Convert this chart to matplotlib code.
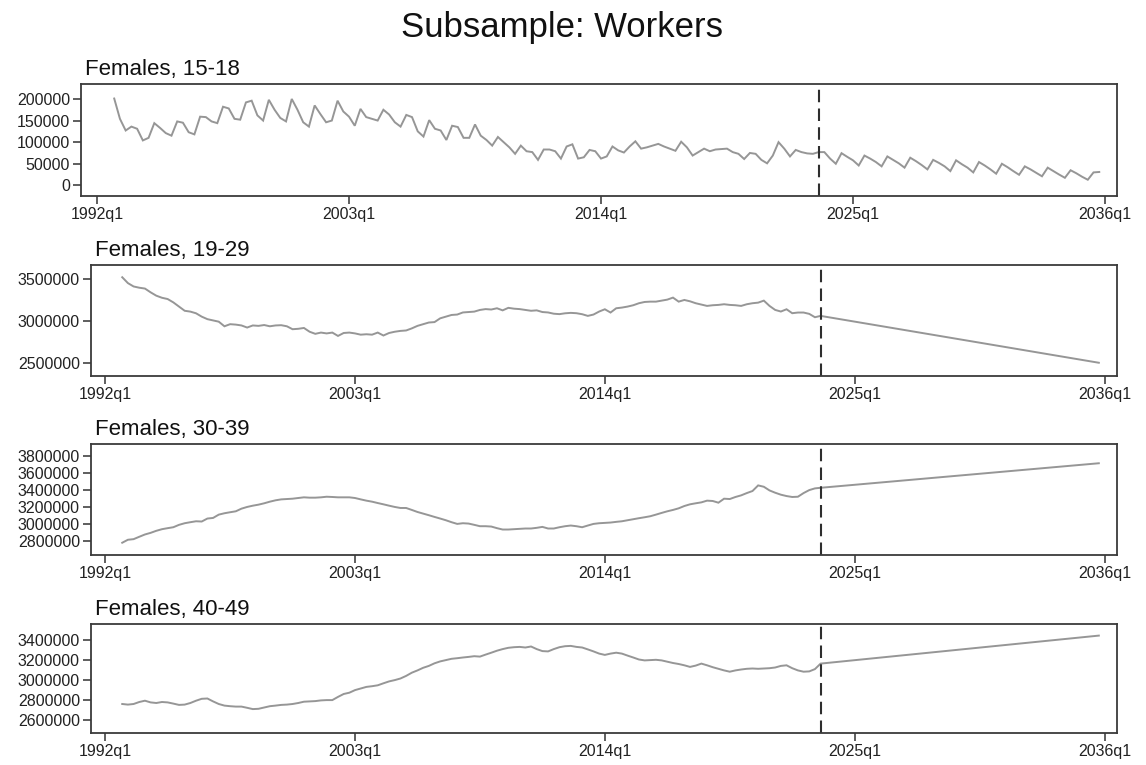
import numpy as np
import matplotlib.pyplot as plt

plt.rcParams['font.family'] = ['Liberation Sans', 'DejaVu Sans']

# Quarterly workers by age group, observed 1992q4-2023q3, projected to 2035q4 (thousands)
hist_start = '1992q4'
cutoff = '2023q3'
proj_end = '2035q4'

xtick_labels = ['1992q1', '2003q1', '2014q1', '2025q1', '2036q1']

titles = ['Females, 15-18', 'Females, 19-29', 'Females, 30-39', 'Females, 40-49']

f1518_hist = [
    201, 154, 127, 136, 131, 104, 110, 144, 133, 121,
    115, 148, 145, 123, 118, 159, 158, 148, 144, 182,
    178, 154, 152, 192, 196, 162, 150, 198, 175, 156,
    148, 200, 175, 146, 136, 185, 165, 146, 150, 196,
    171, 159, 138, 177, 158, 154, 150, 175, 164, 146,
    136, 163, 158, 125, 113, 151, 131, 127, 105, 138,
    135, 110, 110, 141, 115, 105, 92, 112, 100, 88,
    73, 92, 79, 77, 59, 83, 83, 79, 62, 90,
    95, 62, 65, 82, 79, 62, 67, 90, 81, 76,
    90, 102, 85, 88, 92, 96, 90, 85, 80, 101,
    88, 69, 77, 85, 79, 83, 84, 85, 77, 73,
    61, 75, 73, 59, 51, 69, 100, 85, 67, 82,
    77, 74, 73, 77]
# quarterly projection 2023q3-2035q4
f1518_proj = [
    77, 77, 62, 50, 74.5, 66, 58, 46, 69, 62,
    54, 44, 67, 59, 51, 41, 64, 56, 47, 37,
    59, 52, 44, 33, 58, 49, 41, 30, 54, 46,
    37, 27, 50, 42, 33, 24.5, 44, 37, 29, 21,
    41, 33, 25, 17.5, 35, 28, 20, 13, 30, 31]

f1929_hist = [
    3520, 3450, 3410, 3395, 3385, 3340, 3300, 3275, 3260, 3220,
    3170, 3120, 3110, 3090, 3050, 3020, 3005, 2990, 2935, 2960,
    2955, 2945, 2920, 2945, 2940, 2950, 2935, 2945, 2948, 2935,
    2900, 2905, 2915, 2870, 2845, 2860, 2850, 2860, 2820, 2855,
    2860, 2850, 2835, 2840, 2835, 2860, 2825, 2855, 2870, 2880,
    2885, 2910, 2940, 2960, 2980, 2985, 3030, 3050, 3070, 3075,
    3100, 3105, 3110, 3130, 3140, 3135, 3150, 3125, 3155, 3145,
    3140, 3130, 3120, 3125, 3105, 3100, 3085, 3080, 3090, 3095,
    3091, 3079, 3059, 3075, 3111, 3138, 3099, 3150, 3158, 3170,
    3186, 3210, 3225, 3229, 3229, 3241, 3253, 3277, 3229, 3249,
    3233, 3210, 3194, 3178, 3186, 3190, 3198, 3190, 3186, 3178,
    3198, 3210, 3217, 3241, 3178, 3130, 3111, 3138, 3091, 3099,
    3099, 3083, 3043, 3059]
f1929_proj = [3059, 2500]

f3039_hist = [
    2781, 2816, 2823, 2851, 2878, 2897, 2921, 2940, 2952, 2963,
    2991, 3010, 3022, 3033, 3030, 3065, 3072, 3111, 3127, 3139,
    3150, 3181, 3201, 3216, 3228, 3244, 3263, 3279, 3290, 3294,
    3298, 3306, 3314, 3310, 3310, 3314, 3321, 3318, 3314, 3314,
    3314, 3306, 3290, 3275, 3263, 3247, 3232, 3216, 3201, 3189,
    3189, 3166, 3142, 3123, 3104, 3084, 3065, 3045, 3022, 3002,
    3010, 3006, 2991, 2975, 2975, 2971, 2952, 2936, 2936, 2940,
    2944, 2948, 2948, 2956, 2967, 2948, 2948, 2963, 2975, 2983,
    2975, 2963, 2983, 3002, 3010, 3014, 3018, 3026, 3033, 3045,
    3057, 3069, 3080, 3092, 3111, 3131, 3150, 3166, 3185, 3212,
    3232, 3244, 3255, 3275, 3271, 3251, 3298, 3294, 3318, 3337,
    3364, 3388, 3454, 3438, 3395, 3368, 3345, 3329, 3318, 3321,
    3364, 3399, 3419, 3426]
f3039_proj = [3426, 3714]

f4049_hist = [
    2761, 2755, 2761, 2781, 2794, 2777, 2771, 2781, 2777, 2765,
    2752, 2755, 2771, 2794, 2813, 2816, 2787, 2761, 2745, 2739,
    2735, 2735, 2723, 2710, 2713, 2726, 2739, 2745, 2752, 2755,
    2761, 2771, 2784, 2787, 2790, 2797, 2800, 2800, 2832, 2861,
    2874, 2900, 2916, 2932, 2939, 2948, 2968, 2987, 3000, 3016,
    3042, 3074, 3097, 3123, 3142, 3168, 3187, 3200, 3213, 3219,
    3226, 3232, 3239, 3235, 3255, 3274, 3294, 3310, 3323, 3329,
    3332, 3326, 3336, 3310, 3290, 3287, 3310, 3329, 3339, 3342,
    3332, 3326, 3307, 3287, 3265, 3252, 3265, 3274, 3265, 3245,
    3226, 3206, 3197, 3200, 3203, 3197, 3184, 3171, 3161, 3148,
    3132, 3145, 3165, 3148, 3129, 3113, 3097, 3084, 3097, 3106,
    3113, 3116, 3113, 3116, 3119, 3126, 3142, 3148, 3119, 3097,
    3084, 3087, 3110, 3165]
f4049_proj = [3165, 3445]

yticks = [
    [0, 50000, 100000, 150000, 200000],
    [2500000, 3000000, 3500000],
    [2800000, 3000000, 3200000, 3400000, 3600000, 3800000],
    [2600000, 2800000, 3000000, 3200000, 3400000],
]
ylims = [(-24600, 234600), (2342000, 3666000), (2637000, 3940000), (2471000, 3561000)]


def qidx(label):
    # quarters counted from 1992q1
    y, q = label.split('q')
    return (int(y) - 1992) * 4 + int(q) - 1


def series(hist, proj):
    t0, tc, t1 = qidx(hist_start), qidx(cutoff), qidx(proj_end)
    x_hist = np.arange(t0, tc + 1)
    if len(proj) == 2:
        x_proj = np.array([tc, t1])
    else:
        x_proj = np.arange(tc, t1 + 1)
    x = np.concatenate([x_hist, x_proj[1:]])
    y = np.concatenate([hist, proj[1:]]) * 1000
    return x, y


data = [(f1518_hist, f1518_proj), (f1929_hist, f1929_proj),
        (f3039_hist, f3039_proj), (f4049_hist, f4049_proj)]

W, H = 1146, 765
boxes = [(81, 84, 1117, 196), (91, 265, 1117, 376),
         (91, 444, 1117, 555), (91, 624, 1117, 733)]

fig = plt.figure(figsize=(W / 100, H / 100), dpi=100)
fig.text(562 / W, 1 - 28 / H, 'Subsample: Workers', ha='center', va='center',
         fontsize=25, color='#111111')

for k, ((hist, proj), (l, t, r, b)) in enumerate(zip(data, boxes)):
    ax = fig.add_axes([l / W, 1 - b / H, (r - l) / W, (b - t) / H])
    x, y = series(np.array(hist, float), np.array(proj, float))
    ax.plot(x, y, color='#969696', lw=1.4, solid_joinstyle='miter')
    ax.axvline(qidx(cutoff), color='#2e2e2e', lw=1.5, dashes=(6, 3))

    if k == 0:
        ax.set_xlim(-2.8, 178.1)
    else:
        ax.set_xlim(-2.5, 178.2)
    ax.set_ylim(*ylims[k])
    ax.set_xticks([qidx(s) for s in xtick_labels])
    ax.set_xticklabels(xtick_labels)
    ax.set_yticks(yticks[k])
    ax.set_yticklabels([str(v) for v in yticks[k]])
    ax.tick_params(axis='both', length=5.5, width=1.1, color='#333333',
                   labelsize=11.5, labelcolor='#222222', pad=2.5)
    for sp in ax.spines.values():
        sp.set_color('#3a3a3a')
        sp.set_linewidth(1.3)
    ax.annotate(titles[k], xy=(0, 1), xycoords='axes fraction',
                xytext=(3, 6.5), textcoords='offset points',
                ha='left', va='baseline', fontsize=16, color='#111111')

fig.savefig('out.png', dpi=100)
